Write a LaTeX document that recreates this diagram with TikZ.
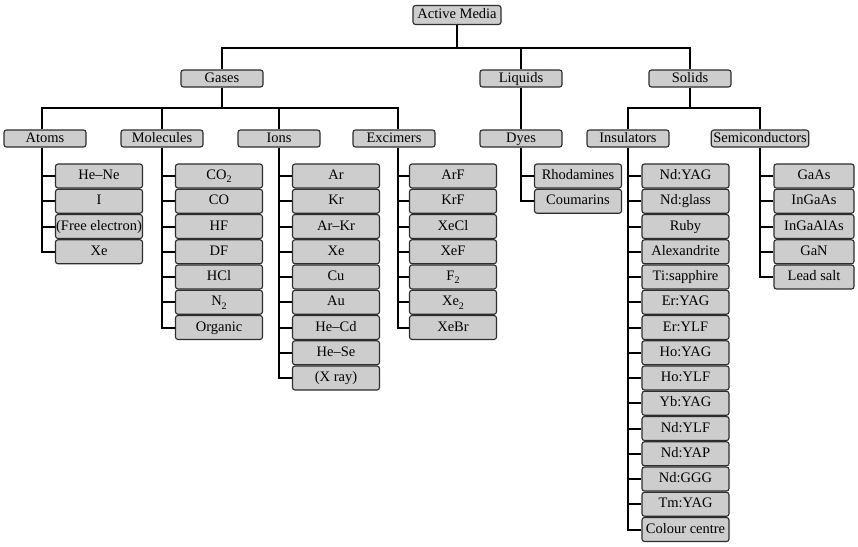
\documentclass[tikz,border=0pt]{standalone}
\usepackage{fontspec}
\setmainfont{Liberation Serif}
\usepackage{tikz}
\definecolor{boxfill}{RGB}{205,205,205}
\definecolor{boxline}{RGB}{45,45,45}
\tikzset{
  cat/.style  = {rounded corners=2.5pt, draw=boxline, fill=boxfill, line width=1.1pt,
                 minimum width=82pt, text height=10pt, text depth=3pt,
                 inner ysep=2pt, inner xsep=2pt, font=\fontsize{14.5}{17}\selectfont},
  leaf/.style = {cat, minimum width=87pt, inner ysep=5.5pt, inner xsep=0.5pt},
  link/.style = {draw=black, line width=2pt},
}
\newcommand{\subtwo}{\raisebox{-0.5ex}{\fontsize{10}{10}\selectfont 2}}

\begin{document}
\begin{tikzpicture}[x=1pt, y=1pt]
\useasboundingbox (0,0) rectangle (858,-546);

% Root and first level
\node[cat, minimum width=88pt, inner ysep=3pt] (media) at (457,-15) {Active Media};
\node[cat] (gases)   at (222,-78.5) {Gases};
\node[cat] (liquids) at (521,-78.5) {Liquids};
\node[cat] (solids)  at (690,-78.5) {Solids};
\coordinate (topbar) at (457,-48);
\draw[link] (media.south) -- (topbar);
\draw[link] (gases.north) |- (solids.north |- topbar) -- (solids.north);
\draw[link] (liquids.north) -- (liquids.north |- topbar);

% Second level
\node[cat] (atoms)     at (45,-138.5)  {Atoms};
\node[cat] (molecules) at (162,-138.5) {Molecules};
\node[cat] (ions)      at (279,-138.5) {Ions};
\node[cat] (excimers)  at (394,-138.5) {Excimers};
\node[cat] (dyes)      at (521,-138.5) {Dyes};
\node[cat] (insul)     at (628,-138.5) {Insulators};
\node[cat] (semi)      at (760,-138.5) {Semiconductors};
\coordinate (gasbar) at (222,-108);
\coordinate (solbar) at (690,-108);
\coordinate (atoms-x) at ([xshift=-3pt]atoms.south);
\coordinate (excimers-x) at ([xshift=4pt]excimers.south);
\draw[link] (gases.south) -- (gasbar);
\draw[link] (atoms-x |- atoms.north) |- (excimers-x |- gasbar) -- (excimers-x |- excimers.north);
\draw[link] (molecules.north) -- (molecules.north |- gasbar);
\draw[link] (ions.north) -- (ions.north |- gasbar);
\draw[link] (liquids.south) -- (dyes.north);
\draw[link] (solids.south) -- (solbar);
\draw[link] (insul.north) |- (semi.north |- solbar) -- (semi.north);

% Leaves: Atoms
\foreach \t [count=\i] in {He--Ne, I, {(Free electron)}, Xe}
  \node[leaf] (atoms-\i) at (99,{-176-25.25*(\i-1)}) {\t};
\draw[link] (atoms-x) |- (atoms-4.west);
\foreach \i in {1,...,3} \draw[link] (atoms-x |- atoms-\i.west) -- (atoms-\i.west);

% Leaves: Molecules
\foreach \t [count=\i] in {CO\subtwo, CO, HF, DF, HCl, N\subtwo, Organic}
  \node[leaf] (molecules-\i) at (219,{-176-25.25*(\i-1)}) {\t};
\draw[link] (molecules.south) |- (molecules-7.west);
\foreach \i in {1,...,6} \draw[link] (molecules.south |- molecules-\i.west) -- (molecules-\i.west);

% Leaves: Ions
\foreach \t [count=\i] in {Ar, Kr, Ar--Kr, Xe, Cu, Au, He--Cd, He--Se, {(X ray)}}
  \node[leaf] (ions-\i) at (336,{-176-25.25*(\i-1)}) {\t};
\draw[link] (ions.south) |- (ions-9.west);
\foreach \i in {1,...,8} \draw[link] (ions.south |- ions-\i.west) -- (ions-\i.west);

% Leaves: Excimers
\foreach \t [count=\i] in {ArF, KrF, XeCl, XeF, F\subtwo, Xe\subtwo, XeBr}
  \node[leaf] (excimers-\i) at (453,{-176-25.25*(\i-1)}) {\t};
\draw[link] (excimers-x) |- (excimers-7.west);
\foreach \i in {1,...,6} \draw[link] (excimers-x |- excimers-\i.west) -- (excimers-\i.west);

% Leaves: Dyes
\foreach \t [count=\i] in {Rhodamines, Coumarins}
  \node[leaf] (dyes-\i) at (578,{-176-25.25*(\i-1)}) {\t};
\draw[link] (dyes.south) |- (dyes-2.west);
\draw[link] (dyes.south |- dyes-1.west) -- (dyes-1.west);

% Leaves: Insulators
\foreach \t [count=\i] in {Nd:YAG, Nd:glass, Ruby, Alexandrite, Ti:sapphire, Er:YAG, Er:YLF,
    Ho:YAG, Ho:YLF, Yb:YAG, Nd:YLF, Nd:YAP, Nd:GGG, Tm:YAG, Colour centre}
  \node[leaf] (insul-\i) at (685.5,{-176-25.25*(\i-1)}) {\t};
\draw[link] (insul.south) |- (insul-15.west);
\foreach \i in {1,...,14} \draw[link] (insul.south |- insul-\i.west) -- (insul-\i.west);

% Leaves: Semiconductors
\foreach \t [count=\i] in {GaAs, InGaAs, InGaAlAs, GaN, Lead salt}
  \node[leaf, minimum width=80pt] (semi-\i) at (814,{-176-25.25*(\i-1)}) {\t};
\draw[link] (semi.south) |- (semi-5.west);
\foreach \i in {1,...,4} \draw[link] (semi.south |- semi-\i.west) -- (semi-\i.west);
\end{tikzpicture}
\end{document}
